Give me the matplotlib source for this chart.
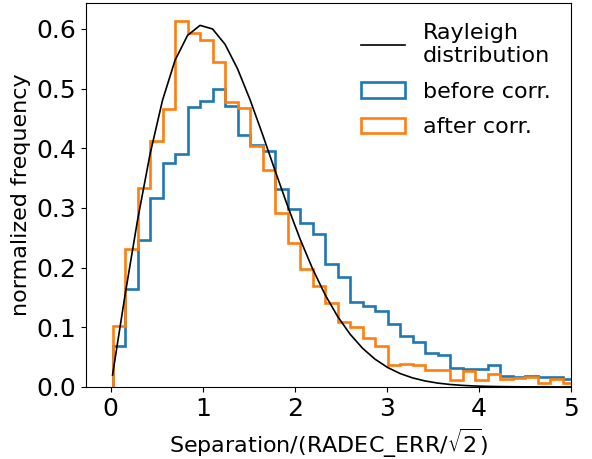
import numpy as np
import matplotlib
matplotlib.use("Agg")
import matplotlib.pyplot as plt

# bin layout
bin_start = 0.02
bin_width = 0.1358
n_bins = 37

before_corr = [0.068, 0.164, 0.247, 0.316, 0.375, 0.391, 0.469, 0.480, 0.499,
               0.471, 0.423, 0.406, 0.395, 0.332, 0.298, 0.274, 0.257, 0.206,
               0.184, 0.143, 0.136, 0.127, 0.105, 0.085, 0.075, 0.057, 0.053,
               0.031, 0.030, 0.030, 0.037, 0.019, 0.017, 0.019, 0.016, 0.017,
               0.014]
after_corr = [0.102, 0.232, 0.333, 0.413, 0.466, 0.613, 0.594, 0.582, 0.544,
              0.477, 0.468, 0.403, 0.364, 0.291, 0.241, 0.197, 0.169, 0.141,
              0.109, 0.101, 0.082, 0.069, 0.037, 0.039, 0.037, 0.029, 0.029,
              0.011, 0.026, 0.011, 0.021, 0.013, 0.015, 0.016, 0.006, 0.013,
              0.007]

edges = bin_start + bin_width * np.arange(n_bins + 1)
rayleigh = edges * np.exp(-edges**2 / 2)

plt.rcParams["font.size"] = 16

fig = plt.figure(figsize=(5.92, 4.59), dpi=100)
ax = fig.add_subplot(111)
fig.subplots_adjust(left=0.145, right=0.9645, top=0.9935, bottom=0.157)

ax.plot(edges, rayleigh, color="black", lw=1.2, label="Rayleigh\ndistribution", zorder=3)
ax.hist(edges[:-1], bins=edges, weights=before_corr, histtype="step",
        color="#1f77b4", lw=1.9, label="before corr.")
ax.hist(edges[:-1], bins=edges, weights=after_corr, histtype="step",
        color="#ff7f0e", lw=1.9, label="after corr.")

ax.set_xlim(-0.27, 5)
ax.set_ylim(0, 0.6435)
ax.tick_params(labelsize=18)
ax.set_xlabel(r"Separation/(RADEC_ERR/$\sqrt{2}$)")
ax.set_ylabel("normalized frequency")
ax.legend(loc="upper right", frameon=False, labelspacing=0.7)

fig.savefig("out.png", dpi=100)
